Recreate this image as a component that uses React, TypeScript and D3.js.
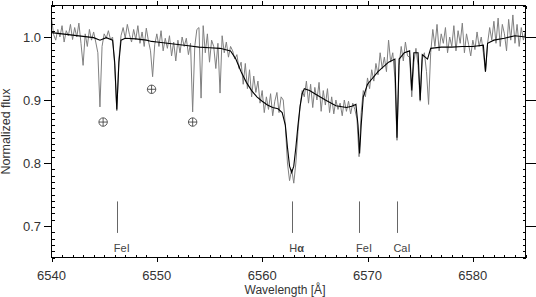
import React from 'react';
import * as d3 from 'd3';

// observed spectrum, sampled every 0.2 A from 6540 A
const obsStart = 6540;
const obsStep = 0.2;
const obsFlux = [
  1.030, 1.004, 0.995, 1.012, 1.000, 1.018, 0.992, 1.010, 1.002, 1.020,
  0.996, 1.015, 1.000, 1.022, 0.990, 0.955, 1.005, 0.985, 1.012, 0.995,
  1.008, 0.992, 0.975, 0.889, 0.985, 1.005, 0.998, 1.010, 0.996, 1.000,
  0.955, 0.883, 0.965, 1.002, 1.015, 0.998, 1.020, 1.004, 0.992, 1.012,
  0.996, 1.018, 0.990, 1.008, 0.985, 1.014, 0.994, 0.978, 0.937, 0.988,
  1.005, 0.985, 1.010, 0.978, 0.998, 0.982, 1.002, 0.970, 0.992, 0.962,
  0.995, 0.975, 1.000, 0.985, 0.998, 0.972, 0.990, 0.881, 0.985, 1.012,
  1.015, 0.903, 1.018, 0.975, 1.005, 0.960, 0.995, 0.985, 0.950, 0.990,
  0.911, 1.002, 0.975, 0.992, 0.968, 0.985, 0.978, 0.965, 0.972, 0.950,
  0.960, 0.925, 0.958, 0.918, 0.948, 0.905, 0.938, 0.912, 0.930, 0.895,
  0.915, 0.880, 0.905, 0.885, 0.910, 0.875, 0.898, 0.912, 0.880, 0.905,
  0.900, 0.860, 0.800, 0.772, 0.790, 0.768, 0.800, 0.850, 0.890, 0.915,
  0.905, 0.930, 0.895, 0.925, 0.888, 0.920, 0.900, 0.928, 0.882, 0.915,
  0.892, 0.918, 0.880, 0.905, 0.878, 0.900, 0.885, 0.895, 0.875, 0.900,
  0.882, 0.898, 0.878, 0.895, 0.885, 0.870, 0.810, 0.880, 0.915, 0.905,
  0.935, 0.918, 0.948, 0.930, 0.958, 0.940, 0.975, 0.950, 0.968, 0.945,
  0.995, 0.960, 0.975, 0.935, 0.836, 0.955, 0.985, 0.962, 0.992, 0.970,
  0.968, 0.905, 0.960, 0.982, 0.955, 0.898, 0.965, 0.975, 0.945, 0.893,
  0.975, 1.012, 0.985, 1.020, 0.978, 1.005, 0.990, 1.015, 0.975, 1.000,
  0.985, 1.018, 0.978, 1.010, 0.990, 1.022, 0.975, 1.005, 0.988, 0.970,
  0.995, 0.980, 1.008, 0.985, 1.000, 0.975, 0.945, 0.990, 1.015, 0.995,
  1.025, 0.990, 1.030, 0.985, 1.020, 1.005, 0.978, 1.028, 0.995, 1.035,
  0.990, 1.020, 0.985, 1.015, 0.995, 1.010,
];

// synthetic (model) spectrum
const modelWl = [
  6540.0, 6541.0, 6542.0, 6543.0, 6544.0, 6544.6, 6545.2, 6545.8, 6546.0, 6546.2,
  6546.4, 6546.6, 6547.0, 6548.0, 6549.0, 6549.5, 6550.0, 6551.0, 6552.0, 6553.0,
  6554.0, 6555.0, 6556.0, 6557.0, 6557.5, 6558.0, 6558.5, 6559.0, 6559.5, 6560.0,
  6560.5, 6561.0, 6561.5, 6561.9, 6562.2, 6562.4, 6562.6, 6562.8, 6563.0, 6563.2,
  6563.4, 6563.6, 6563.8, 6564.0, 6564.5, 6565.0, 6566.0, 6567.0, 6568.0, 6568.5,
  6568.9, 6569.1, 6569.25, 6569.4, 6569.6, 6570.0, 6571.0, 6572.0, 6572.6, 6572.8,
  6573.0, 6573.5, 6574.0, 6574.2, 6574.4, 6574.8, 6575.0, 6575.2, 6575.7, 6576.0,
  6577.0, 6578.0, 6579.0, 6580.0, 6581.0, 6581.2, 6581.4, 6582.0, 6583.0, 6584.0,
  6585.0,
];
const modelFlux = [
  1.007, 1.005, 1.003, 1.001, 0.999, 0.995, 0.999, 0.995, 0.960, 0.885,
  0.960, 0.995, 0.998, 0.997, 0.995, 0.993, 0.992, 0.990, 0.988, 0.986,
  0.984, 0.983, 0.982, 0.978, 0.965, 0.945, 0.928, 0.915, 0.905, 0.898,
  0.892, 0.888, 0.886, 0.880, 0.860, 0.825, 0.795, 0.785, 0.795, 0.825,
  0.860, 0.890, 0.910, 0.918, 0.915, 0.910, 0.900, 0.891, 0.888, 0.890,
  0.893, 0.860, 0.815, 0.860, 0.905, 0.925, 0.945, 0.960, 0.965, 0.840,
  0.965, 0.975, 0.978, 0.915, 0.975, 0.975, 0.900, 0.972, 0.965, 0.982,
  0.984, 0.984, 0.985, 0.985, 0.987, 0.945, 0.990, 0.995, 0.998, 1.002,
  1.000,
];

// identified lines
const lineWl = [6546.2, 6562.8, 6569.2, 6572.8];
const lineNames = ['FeI', 'H', 'FeI', 'CaI'];
// telluric markers
const tellWl = [6544.9, 6549.5, 6553.4];
const tellFlux = [0.865, 0.917, 0.865];

const W = 536;
const H = 297;
const font = '"Liberation Sans", Arial, sans-serif';

export default function App() {
  const x = d3.scaleLinear().domain([6540, 6585]).range([51.5, 525.5]);
  const y = d3.scaleLinear().domain([0.65, 1.05]).range([257.5, 5.5]);
  const [x0, x1] = x.range();
  const [y0, y1] = y.range();

  const line = d3.line<[number, number]>()
    .x(d => x(d[0]))
    .y(d => y(d[1]));

  const obs: [number, number][] = obsFlux.map((f, i) => [obsStart + i * obsStep, f]);
  const model: [number, number][] = modelWl.map((w, i) => [w, modelFlux[i]]);

  const xMajor = x.ticks(5);
  const xMinor = x.ticks(45).filter(t => !xMajor.includes(t));
  const yMajor = y.ticks(4);
  const yMinor = y.ticks(40).filter(t => !yMajor.some(m => Math.abs(m - t) < 1e-6));

  const r = (v: number) => Math.round(v) + 0.5;

  return (
    <svg width={W} height={H} style={{position: 'fixed', left: 0, top: 0, background: '#fff'}}
      fontFamily={font}>
      <path d={line(obs) || ''} fill="none" stroke="#808080" strokeWidth={1} />
      <path d={line(model) || ''} fill="none" stroke="#000" strokeWidth={1.1} />

      {tellWl.map((w, i) => {
        const cx = x(w), cy = y(tellFlux[i]);
        return (
          <g key={'t' + i} stroke="#333" strokeWidth={0.8} fill="none">
            <circle cx={cx} cy={cy} r={4.2} />
            <line x1={cx - 4.2} x2={cx + 4.2} y1={cy} y2={cy} />
            <line x1={cx} x2={cx} y1={cy - 4.2} y2={cy + 4.2} />
          </g>
        );
      })}

      {lineWl.map((w, i) => (
        <g key={'l' + i}>
          <line x1={r(x(w))} x2={r(x(w))} y1={y(0.739)} y2={y(0.689)} stroke="#666" strokeWidth={1} />
          <text x={x(w) + 5} y={y(0.658)} textAnchor="middle" fontSize={11} fill="#444">
            {lineNames[i]}{lineNames[i] === 'H' ? <tspan fontWeight="bold">α</tspan> : null}
          </text>
        </g>
      ))}

      <g shapeRendering="crispEdges" stroke="#000" strokeWidth={1}>
        <rect x={x0} y={y1} width={x1 - x0} height={y0 - y1} fill="none" />
        {xMinor.map(t => (
          <g key={'xm' + t}>
            <line x1={r(x(t))} x2={r(x(t))} y1={y0} y2={y0 - 3} />
            <line x1={r(x(t))} x2={r(x(t))} y1={y1} y2={y1 + 3} />
          </g>
        ))}
        {xMajor.map(t => (
          <g key={'xM' + t}>
            <line x1={r(x(t))} x2={r(x(t))} y1={y0} y2={y0 + 4} />
            <line x1={r(x(t))} x2={r(x(t))} y1={y1} y2={y1 - 5} />
          </g>
        ))}
        {yMinor.map(t => (
          <g key={'ym' + t}>
            <line x1={x0} x2={x0 + 3} y1={r(y(t))} y2={r(y(t))} />
            <line x1={x1} x2={x1 - 3} y1={r(y(t))} y2={r(y(t))} />
          </g>
        ))}
        {yMajor.map(t => (
          <g key={'yM' + t}>
            <line x1={x0} x2={x0 - 8} y1={r(y(t))} y2={r(y(t))} />
            <line x1={x1} x2={x1 + 10} y1={r(y(t))} y2={r(y(t))} />
          </g>
        ))}
      </g>

      <g fill="#333" fontSize={13}>
        {xMajor.map(t => (
          <text key={'xl' + t} x={x(t)} y={280} textAnchor="middle">{t}</text>
        ))}
        {yMajor.map(t => (
          <text key={'yl' + t} x={41} y={y(t) + 4.5} textAnchor="end">{t.toFixed(1)}</text>
        ))}
      </g>

      <text x={285} y={294} textAnchor="middle" fontSize={12} fill="#333">Wavelength [Å]</text>
      <text transform={`translate(9.5,${(y0 + y1) / 2}) rotate(-90)`} textAnchor="middle"
        fontSize={12.5} fill="#333">Normalized flux</text>
    </svg>
  );
}
